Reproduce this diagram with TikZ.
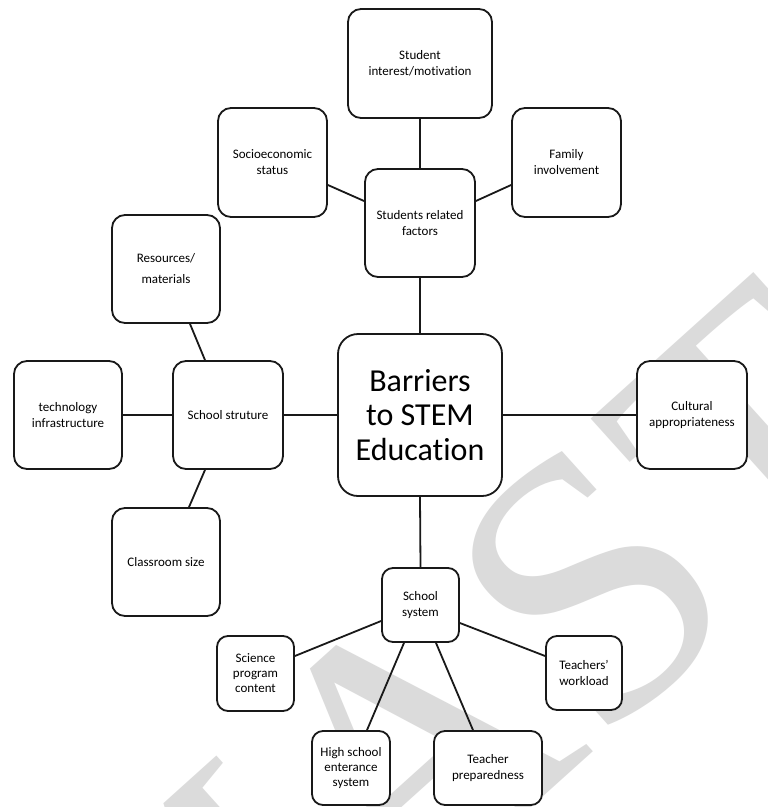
\documentclass[tikz,border=0pt]{standalone}
\usepackage{fontspec}
\setmainfont[Ligatures=NoCommon]{Carlito}
\newfontfamily\wmfont{Liberation Serif}
\begin{document}
\begin{tikzpicture}[x=1pt,y=-1pt,
  box/.style={draw=black!90, line width=1.8pt, fill=white, rounded corners=13pt, align=center,
    font=\fontsize{13}{16}\selectfont, inner sep=0pt},
  link/.style={draw=black!90, line width=1.8pt},
  wm/.style={text=black!14, font=\wmfont\fontsize{380}{380}\selectfont, inner sep=0pt}]
\useasboundingbox (0,0) rectangle (768,807);
\fill[white] (0,0) rectangle (768,807);
\begin{scope}
\clip (0,0) rectangle (768,807);
\node[wm, rotate=42, anchor=base west] (wmark) at (140.4,1159.7) {MAST};
\end{scope}
% nodes
\node[box, minimum width=144pt, minimum height=109pt] (sim) at (420,63.5) {Student\\interest/motivation};
\node[box, minimum width=109pt, minimum height=109pt] (soc) at (272.5,162.5) {Socioeconomic\\status};
\node[box, minimum width=109pt, minimum height=109pt] (fam) at (566.5,162.5) {Family\\involvement};
\node[box, minimum width=110pt, minimum height=108pt] (srf) at (420,223) {Students related\\factors};
\node[box, minimum width=108pt, minimum height=108pt, font=\fontsize{13}{21}\selectfont] (res) at (166,269) {Resources/\\materials};
\node[box, minimum width=108pt, minimum height=108pt] (tech) at (68,415) {technology\\infrastructure};
\node[box, minimum width=110pt, minimum height=108pt] (sst) at (228,415) {School struture};
\node[box, minimum width=164pt, minimum height=162pt, rounded corners=20pt, font=\fontsize{32}{34.5}\selectfont] (bar) at (420,415) {Barriers\\to STEM\\Education};
\node[box, minimum width=110pt, minimum height=108pt] (cul) at (692,415) {Cultural\\appropriateness};
\node[box, minimum width=108pt, minimum height=108pt] (cls) at (166,562) {Classroom size};
\node[box, minimum width=77pt, minimum height=74pt, rounded corners=11pt] (ssy) at (420.5,605) {School\\system};
\node[box, minimum width=77pt, minimum height=75pt, rounded corners=11pt, font=\fontsize{13}{15}\selectfont] (sci) at (255.5,673.5) {Science\\program\\content};
\node[box, minimum width=76pt, minimum height=74pt, rounded corners=11pt] (twl) at (584,673) {Teachers'\\workload};
\node[box, minimum width=78pt, minimum height=74pt, rounded corners=11pt, font=\fontsize{13}{15}\selectfont] (hse) at (351,768) {High school\\enterance\\system};
\node[box, minimum width=108pt, minimum height=74pt, rounded corners=11pt] (tpr) at (488,768) {Teacher\\preparedness};
% connectors
\draw[link] (sim.south) -- (srf.north);
\draw[link] ([yshift=-22.5pt]soc.east) -- ([yshift=22pt]srf.west);
\draw[link] ([yshift=22pt]srf.east) -- ([yshift=-22.5pt]fam.west);
\draw[link] (srf.south) -- (bar.north);
\draw[link] ([xshift=24pt]res.south) -- ([xshift=-23pt]sst.north);
\draw[link] (tech.east) -- (sst.west);
\draw[link] (sst.east) -- (bar.west);
\draw[link] (bar.east) -- (cul.west);
\draw[link] ([xshift=-23pt]sst.south) -- ([xshift=23pt]cls.north);
\draw[link] (bar.south) -- (ssy.north);
\draw[link] ([yshift=-16pt]ssy.west) -- ([yshift=17.5pt]sci.east);
\draw[link] ([xshift=-16.5pt]ssy.south) -- ([xshift=16pt]hse.north);
\draw[link] ([xshift=15.5pt]ssy.south) -- ([xshift=-15pt]tpr.north);
\draw[link] ([yshift=-18pt]ssy.east) -- ([yshift=17pt]twl.west);
\end{tikzpicture}
\end{document}
